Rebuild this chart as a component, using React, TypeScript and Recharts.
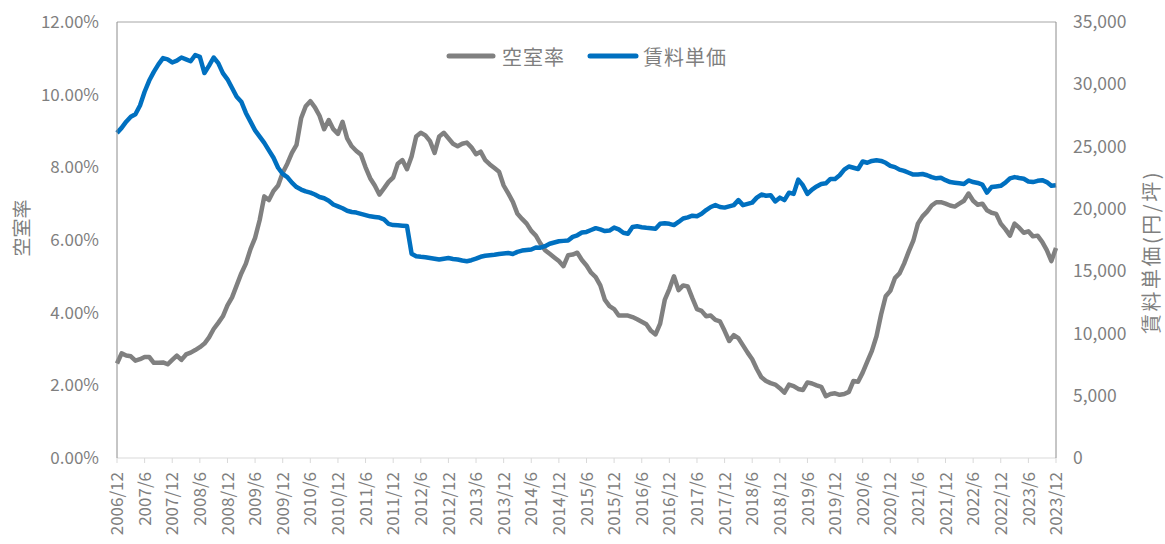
import React from 'react';
import { LineChart, Line, XAxis, YAxis, ReferenceLine } from 'recharts';

const FONT = '"Noto Sans CJK JP", "Noto Sans", sans-serif';

// Monthly categories, 2006/12 .. 2023/12 (205 months)
const startYear = 2006;
const startMonth = 12;
const monthCount = 205;
const categories: string[] = Array.from({ length: monthCount }, (_, i) => {
  const m = startMonth - 1 + i;
  return `${startYear + Math.floor(m / 12)}/${(m % 12) + 1}`;
});

const tickLabels: string[] = [
  '2006/12', '2007/6', '2007/12', '2008/6', '2008/12', '2009/6', '2009/12', '2010/6', '2010/12',
  '2011/6', '2011/12', '2012/6', '2012/12', '2013/6', '2013/12', '2014/6', '2014/12', '2015/6',
  '2015/12', '2016/6', '2016/12', '2017/6', '2017/12', '2018/6', '2018/12', '2019/6', '2019/12',
  '2020/6', '2020/12', '2021/6', '2021/12', '2022/6', '2022/12', '2023/6', '2023/12',
];

const seriesNames = ['空室率', '賃料単価'];
const leftTitle = '空室率';
const rightTitle = '賃料単価(円/坪)';

// 空室率 (%)
const vacancyRate: number[] = [
  2.60, 2.88, 2.82, 2.80, 2.68, 2.72, 2.78, 2.78, 2.62, 2.62, 2.63, 2.58, 2.70, 2.82, 2.70, 2.85, 2.90, 2.97,
  3.05, 3.15, 3.32, 3.55, 3.72, 3.90, 4.20, 4.42, 4.75, 5.08, 5.35, 5.75, 6.06, 6.55, 7.20, 7.10, 7.35,
  7.50, 7.85, 8.10, 8.40, 8.62, 9.35, 9.68, 9.82, 9.65, 9.42, 9.05, 9.30, 9.05, 8.92, 9.25, 8.80, 8.58,
  8.45, 8.35, 8.00, 7.70, 7.50, 7.25, 7.42, 7.60, 7.72, 8.10, 8.20, 7.95, 8.30, 8.85, 8.95, 8.88,
  8.72, 8.40, 8.85, 8.95, 8.80, 8.65, 8.58, 8.65, 8.68, 8.55, 8.36, 8.43, 8.20, 8.08, 7.98, 7.88, 7.50,
  7.28, 7.05, 6.72, 6.58, 6.45, 6.25, 6.12, 5.90, 5.72, 5.62, 5.52, 5.42, 5.28, 5.58, 5.60, 5.65, 5.45,
  5.30, 5.10, 4.98, 4.75, 4.35, 4.18, 4.10, 3.92, 3.92, 3.92, 3.88, 3.82, 3.75, 3.68, 3.50, 3.40, 3.70,
  4.35, 4.65, 5.00, 4.62, 4.75, 4.72, 4.40, 4.10, 4.05, 3.90, 3.92, 3.80, 3.76, 3.50, 3.22, 3.38, 3.30,
  3.10, 2.90, 2.72, 2.45, 2.22, 2.12, 2.06, 2.02, 1.92, 1.80, 2.02, 1.98, 1.90, 1.87, 2.08, 2.05, 2.00,
  1.96, 1.70, 1.76, 1.78, 1.74, 1.76, 1.82, 2.12, 2.10, 2.35, 2.65, 2.95, 3.35, 3.95, 4.45, 4.60, 4.95,
  5.08, 5.35, 5.68, 5.98, 6.45, 6.65, 6.78, 6.95, 7.04, 7.04, 7.00, 6.95, 6.92, 7.00, 7.08, 7.28, 7.08,
  6.97, 7.00, 6.82, 6.75, 6.72, 6.45, 6.30, 6.12, 6.45, 6.34, 6.20, 6.24, 6.10, 6.12, 5.95, 5.72, 5.42, 5.78,
];

// 賃料単価 (円/坪)
const rentPerTsubo: number[] = [
  26100, 26500, 27000, 27400, 27600, 28300, 29400, 30300, 31000, 31600, 32100, 32000, 31750, 31900,
  32150, 32000, 31850, 32350, 32200, 30900, 31500, 32150, 31700, 30900, 30400, 29700, 29000, 28600,
  27700, 27000, 26300, 25800, 25300, 24700, 24100,
  23300, 22800, 22550, 22100, 21750, 21550, 21400, 21300, 21150, 20950, 20850, 20650, 20350, 20200,
  20050, 19850, 19750, 19700, 19600, 19500, 19400, 19350, 19300, 19150, 18800, 18700, 18680, 18650,
  18620, 16400, 16200, 16150, 16120,
  16060, 16000, 15930, 16000, 16050, 15980, 15930, 15850, 15800, 15880, 16000, 16150, 16230, 16280,
  16320, 16380, 16420, 16460, 16380, 16550, 16650, 16700, 16740, 16900, 16880, 17000, 17200, 17300,
  17400, 17430, 17460, 17750, 17880, 18100,
  18150, 18300, 18450, 18350, 18220, 18260, 18500, 18350, 18080, 18000, 18550, 18600, 18530, 18480,
  18450, 18400, 18800, 18850, 18800, 18700, 18950, 19230, 19320, 19450, 19400, 19600, 19900, 20150,
  20300, 20150, 20100, 20200, 20300, 20700,
  20300, 20400, 20500, 20900, 21150, 21050, 21100, 20600, 20900, 20700, 21300, 21200, 22350, 21900,
  21200, 21550, 21800, 22000, 22050, 22400, 22400, 22700, 23150, 23400, 23300, 23200, 23800, 23700,
  23850, 23900, 23850, 23700, 23450, 23350,
  23150, 23050, 22900, 22750, 22750, 22800, 22700, 22550, 22450, 22500, 22300, 22150, 22100, 22050,
  22000, 22280, 22150, 22080, 21950, 21300, 21750, 21800, 21850, 22100, 22450, 22550, 22480, 22420,
  22200, 22150, 22250, 22300, 22150, 21850, 21900,
];

const leftTicks = [0, 2, 4, 6, 8, 10, 12];
const rightTicks = [0, 5000, 10000, 15000, 20000, 25000, 30000, 35000];

const data = categories.map((period, i) => ({
  period,
  vacancy: vacancyRate[i],
  rent: rentPerTsubo[i],
}));

const GRAY = '#808080';
const BLUE = '#0070c0';
const TEXT = '#7f7f7f';

const XTick = (props: any) => {
  const { x, y, payload } = props;
  return (
    <g transform={`translate(${x},${y})`}>
      <text
        transform="rotate(-90)"
        x={-7}
        y={0}
        dy="0.36em"
        textAnchor="end"
        fill={TEXT}
        fontSize={17}
        fontFamily={FONT}
      >
        {payload.value}
      </text>
    </g>
  );
};

export default function App() {
  return (
    <div style={{ position: 'absolute', left: 0, top: 0, width: 1165, height: 544, background: '#fff', fontFamily: FONT, overflow: 'hidden' }}>
      <LineChart width={1165} height={544} data={data} margin={{ top: 22, right: 49, bottom: 6, left: 57 }}>
        <XAxis
          dataKey="period"
          ticks={tickLabels}
          interval={0}
          tick={<XTick />}
          tickSize={5}
          tickMargin={2}
          tickLine={{ stroke: '#d9d9d9' }}
          axisLine={{ stroke: '#d9d9d9' }}
          height={80}
        />
        <YAxis
          yAxisId="left"
          domain={[0, 12]}
          ticks={leftTicks}
          tickFormatter={(v: number) => `${v.toFixed(2)}%`}
          tickLine={false}
          tickSize={0}
          tickMargin={18}
          axisLine={{ stroke: '#8c8c8c' }}
          tick={{ fill: TEXT, fontSize: 17, fontFamily: FONT }}
          width={60}
        />
        <YAxis
          yAxisId="right"
          orientation="right"
          domain={[0, 35000]}
          ticks={rightTicks}
          tickFormatter={(v: number) => v.toLocaleString('en-US')}
          tickLine={false}
          tickSize={0}
          tickMargin={17}
          axisLine={{ stroke: '#8c8c8c' }}
          tick={{ fill: TEXT, fontSize: 17.5, fontFamily: FONT, textAnchor: 'start' }}
          width={60}
        />
        <ReferenceLine yAxisId="left" y={12} stroke="#a6a6a6" strokeWidth={1} />
        <Line
          yAxisId="left"
          dataKey="vacancy"
          name={seriesNames[0]}
          stroke={GRAY}
          strokeWidth={4.5}
          dot={false}
          strokeLinejoin="round"
          isAnimationActive={false}
        />
        <Line
          yAxisId="right"
          dataKey="rent"
          name={seriesNames[1]}
          stroke={BLUE}
          strokeWidth={4.5}
          dot={false}
          strokeLinejoin="round"
          isAnimationActive={false}
        />
      </LineChart>

      {/* Legend */}
      <div style={{ position: 'absolute', left: 446, top: 42, height: 28, display: 'flex', alignItems: 'center', color: TEXT, fontSize: 20, letterSpacing: 1 }}>
        <svg width={50} height={10} style={{ marginRight: 6 }}>
          <line x1={3} y1={5} x2={47} y2={5} stroke={GRAY} strokeWidth={5} strokeLinecap="round" />
        </svg>
        <span style={{ marginRight: 22 }}>{seriesNames[0]}</span>
        <svg width={52} height={10} style={{ marginRight: 4 }}>
          <line x1={3} y1={5} x2={49} y2={5} stroke={BLUE} strokeWidth={5} strokeLinecap="round" />
        </svg>
        <span>{seriesNames[1]}</span>
      </div>

      {/* Left axis title */}
      <div style={{ position: 'absolute', left: 20, top: 228, transform: 'translate(-50%, -50%) rotate(-90deg)', whiteSpace: 'nowrap', color: TEXT, fontSize: 19, lineHeight: 1 }}>
        {leftTitle}
      </div>

      {/* Right axis title */}
      <div style={{ position: 'absolute', left: 1151, top: 252, transform: 'translate(-50%, -50%) rotate(-90deg)', whiteSpace: 'nowrap', color: TEXT, fontSize: 20, letterSpacing: 2.5, lineHeight: 1 }}>
        {rightTitle}
      </div>
    </div>
  );
}
